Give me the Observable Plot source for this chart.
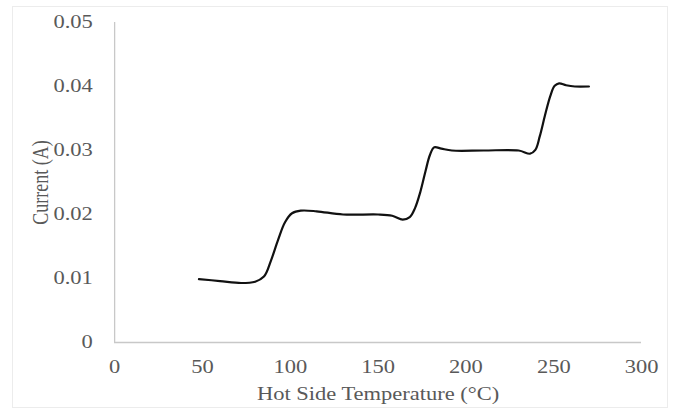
<!DOCTYPE html>
<html>
<head>
<meta charset="utf-8">
<script src="https://cdn.jsdelivr.net/npm/d3@7"></script>
<script src="https://cdn.jsdelivr.net/npm/@observablehq/plot@0.6"></script>
<style>
  html, body { margin: 0; padding: 0; background: #fff; }
  #wrap { position: relative; width: 675px; height: 410px; }
  #frame { position: absolute; left: 12px; top: 6px; width: 656px; height: 402px; border: 1px solid #ececec; box-sizing: border-box; pointer-events: none; }
  #chart { position: absolute; left: 0; top: 0; }
</style>
</head>
<body>
<div id="wrap"><div id="frame"></div><div id="chart"></div></div>
<script>
// Hot side temperature (°C)
const temperature = [48, 60, 72, 80, 85, 89, 93, 97, 101, 106, 115, 130, 150, 158, 164, 168, 171, 174, 177, 179.5, 182, 186, 192, 210, 230, 236.5, 239.5, 242, 245, 248, 250.5, 253, 257, 262, 270];
// Current (A)
const current = [0.0099, 0.0096, 0.0093, 0.0095, 0.0103, 0.0128, 0.0160, 0.0188, 0.0202, 0.0206, 0.0205, 0.0200, 0.0200, 0.0198, 0.0192, 0.0196, 0.0210, 0.0235, 0.0268, 0.0293, 0.0305, 0.0303, 0.0300, 0.0300, 0.0300, 0.0295, 0.0301, 0.0322, 0.0355, 0.0385, 0.0401, 0.0405, 0.0402, 0.0400, 0.0400];
const xTicks = [0, 50, 100, 150, 200, 250, 300];
const yTicks = [0, 0.01, 0.02, 0.03, 0.04, 0.05];
const yTickLabels = ["0", "0.01", "0.02", "0.03", "0.04", "0.05"];

const data = temperature.map((t, i) => ({t, c: current[i]}));

const S = 1.25; // horizontal stretch of the original picture
const W = 675 / S;
const H = 410;

const plot = Plot.plot({
  width: W,
  height: H,
  marginLeft: 114 / S,
  marginRight: 34 / S,
  marginTop: 22,
  marginBottom: 68,
  style: { fontFamily: "'Liberation Serif', 'Times New Roman', serif", fontSize: "18px", color: "#595959", background: "transparent" },
  x: { domain: [0, 300], ticks: xTicks, label: null },
  y: { domain: [0, 0.05], ticks: yTicks, label: null },
  marks: [
    Plot.ruleY([0], { stroke: "#c8c8c8", strokeWidth: 1.3 }),
    Plot.ruleX([0], { stroke: "#c8c8c8", strokeWidth: 1.3 }),
    Plot.axisX({ ticks: xTicks, tickSize: 0, tickPadding: 18, fill: "#595959", fontSize: 18 }),
    Plot.axisY({ ticks: yTicks, tickSize: 0, tickPadding: 17.5, tickFormat: (d) => yTickLabels[yTicks.indexOf(d)], fill: "#595959", fontSize: 18 }),
    Plot.text(["Hot Side Temperature (°C)"], { frameAnchor: "bottom", dy: 57, fill: "#595959", fontSize: 18 }),
    Plot.text(["Current (A)"], { frameAnchor: "left", dx: -74 / S, rotate: -90, textAnchor: "middle", fill: "#595959", fontSize: 18 }),
    Plot.line(data, { x: "t", y: "c", curve: "catmull-rom", stroke: "#111", strokeWidth: 2.2 })
  ]
});

plot.setAttribute("viewBox", `0 0 ${W} ${H}`);
plot.setAttribute("width", 675);
plot.setAttribute("height", 410);
plot.setAttribute("preserveAspectRatio", "none");
plot.style.width = "675px";
plot.style.height = "410px";
plot.style.maxWidth = "none";
plot.querySelectorAll("path, line").forEach(el => el.setAttribute("vector-effect", "non-scaling-stroke"));
document.getElementById("chart").appendChild(plot);
</script>
</body>
</html>
